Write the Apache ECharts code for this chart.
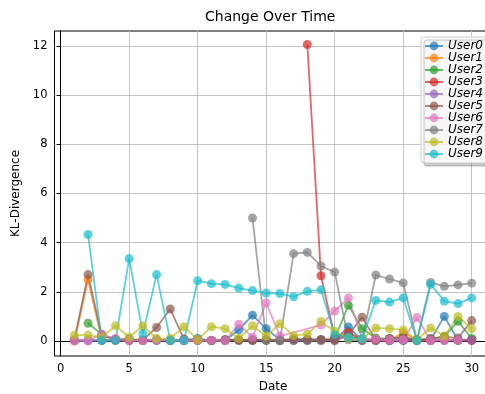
<!DOCTYPE html>
<html>
<head>
<meta charset="utf-8">
<script src="https://cdn.jsdelivr.net/npm/echarts@6/dist/echarts.min.js"></script>
<style>
  html, body { margin: 0; padding: 0; background: #fff; }
  #main { width: 485px; height: 394px; }
</style>
</head>
<body>
<div id="main"></div>
<script>
// dates on the x axis
var dates = [1,2,3,4,5,6,7,8,9,10,11,12,13,14,15,16,17,18,19,20,21,22,23,24,25,26,27,28,29,30];
var xTicks = [0,5,10,15,20,25,30];
var yTicks = [0,2,4,6,8,10,12];
var users = ['User0','User1','User2','User3','User4','User5','User6','User7','User8','User9'];

// KL-divergence per user per date (null = no entry that day)
var user0 = [0.02,0.03,0.02,0.05,0.03,0.02,0.04,0.02,0.03,0.1,0.02,0.03,0.45,1.05,0.5,0.05,0.03,0.02,0.05,0.04,0.57,0.03,0.02,0.04,0.03,0.02,0.05,1.0,0.03,0.05];
var user1 = [0.0,2.5,0.05,0.03,0.04,0.02,0.03,0.05,0.02,0.03,0.02,0.04,0.03,0.02,0.05,0.03,0.02,0.04,0.03,0.05,0.3,0.04,0.03,0.02,0.35,0.03,0.02,0.05,0.03,0.04];
var user2 = [null,0.72,0.27,0.05,0.08,0.03,0.05,0.02,0.04,0.03,0.02,0.05,0.04,0.05,0.03,0.02,0.05,0.04,0.03,0.1,1.45,0.5,0.12,0.1,0.12,0.05,0.08,0.18,0.8,0.1];
var user3 = [null,null,null,null,null,null,null,null,null,null,null,null,null,null,null,null,null,12.05,2.65,0.15,0.35,0.05,0.03,0.02,0.04,0.03,0.02,0.05,0.03,0.02];
var user4 = [0.02,0.01,0.03,0.02,0.01,0.03,0.02,0.02,0.01,0.03,0.02,0.01,0.02,0.03,0.02,0.01,0.02,0.03,0.02,0.01,0.2,0.02,0.03,0.01,0.02,0.03,0.02,0.01,0.02,0.03];
var user5 = [0.05,2.7,0.2,0.08,0.05,0.04,0.55,1.3,0.08,0.03,0.02,0.05,0.04,0.03,0.05,0.04,0.08,0.07,0.06,0.05,0.25,0.97,0.05,0.1,0.17,0.04,0.1,0.18,0.12,0.83];
var user6 = [0.02,0.02,0.27,0.1,0.03,0.02,0.05,0.02,0.03,0.02,0.03,0.02,0.68,0.15,1.55,0.2,null,null,0.65,1.22,1.75,0.1,0.08,0.05,0.05,0.95,0.03,0.05,0.03,null];
var user7 = [null,null,null,null,null,null,null,null,null,null,null,null,null,5.0,0.05,0.02,3.55,3.6,3.05,2.8,0.05,0.03,2.68,2.52,2.36,0.03,2.38,2.22,2.28,2.35];
var user8 = [0.24,0.24,0.15,0.62,0.15,0.62,0.1,0.1,0.58,0.05,0.58,0.5,0.1,0.62,0.2,0.7,0.22,0.28,0.79,0.4,0.12,0.1,0.53,0.5,0.45,0.05,0.53,0.2,1.0,0.5];
var user9 = [null,4.33,0.02,0.02,3.35,0.3,2.7,0.02,0.02,2.45,2.33,2.3,2.15,2.05,1.95,1.93,1.8,2.02,2.08,0.25,0.15,0.1,1.65,1.58,1.75,0.02,2.3,1.62,1.52,1.75];

var userValues = [user0,user1,user2,user3,user4,user5,user6,user7,user8,user9];
var colors = ['#1f77b4','#ff7f0e','#2ca02c','#d62728','#9467bd','#8c564b','#e377c2','#7f7f7f','#bcbd22','#17becf'];

var font = 'DejaVu Sans';
var chart = echarts.init(document.getElementById('main'), null, {renderer: 'canvas'});

var series = users.map(function (name, i) {
    return {
        name: name,
        type: 'line',
        data: dates.map(function (d, j) { return [d, userValues[i][j]]; }),
        connectNulls: true,
        symbol: 'circle',
        symbolSize: 9,
        showSymbol: true,
        color: colors[i],
        lineStyle: { width: 1.8, opacity: 0.7 },
        itemStyle: { opacity: 0.7, borderWidth: 0 },
        emphasis: { disabled: true }
    };
});

var option = {
    animation: false,
    color: colors,
    title: {
        text: 'Change Over Time',
        left: 205,
        top: 10,
        padding: 0,
        textStyle: { fontFamily: font, fontSize: 14, fontWeight: 'normal', color: '#000' }
    },
    legend: {
        orient: 'vertical',
        left: 421,
        top: 37,
        padding: [3, 4, 3, 3],
        itemWidth: 18,
        itemHeight: 11,
        itemGap: 0,
        backgroundColor: 'rgba(255,255,255,0.85)',
        borderColor: '#cccccc',
        borderWidth: 1,
        borderRadius: 3,
        shadowColor: 'rgba(0,0,0,0.25)',
        shadowBlur: 1,
        shadowOffsetX: 3,
        shadowOffsetY: 3,
        textStyle: { fontFamily: font, fontSize: 12, fontStyle: 'italic', color: '#000', lineHeight: 11 },
        data: users
    },
    grid: {
        left: 54.5,
        right: -6.6,
        top: 31,
        bottom: 38,
        show: true,
        borderColor: '#000',
        borderWidth: 1,
        outerBoundsMode: 'none'
    },
    xAxis: {
        type: 'value',
        min: -0.45,
        max: 31.45,
        name: 'Date',
        nameLocation: 'middle',
        nameGap: 25,
        nameTextStyle: { fontFamily: font, fontSize: 12, color: '#000' },
        axisLine: { show: true, lineStyle: { color: '#000', width: 1 } },
        axisTick: { show: true, inside: false, length: 4, customValues: xTicks, lineStyle: { color: '#000' } },
        axisLabel: { customValues: xTicks, margin: 7, fontFamily: font, fontSize: 11.5, color: '#000' },
        splitLine: { show: true, lineStyle: { color: '#c4c4c4', width: 1 } }
    },
    yAxis: {
        type: 'value',
        min: -0.61,
        max: 12.6,
        name: 'KL-Divergence',
        nameLocation: 'middle',
        nameGap: 30,
        nameTextStyle: { fontFamily: font, fontSize: 12, color: '#000' },
        axisLine: { show: true, lineStyle: { color: '#000', width: 1 } },
        axisTick: { show: true, inside: false, length: 4, customValues: yTicks, lineStyle: { color: '#000' } },
        axisLabel: { customValues: yTicks, margin: 7, fontFamily: font, fontSize: 11.5, color: '#000' },
        splitLine: { show: true, lineStyle: { color: '#c4c4c4', width: 1 } }
    },
    series: series
};
chart.setOption(option);
</script>
</body>
</html>
